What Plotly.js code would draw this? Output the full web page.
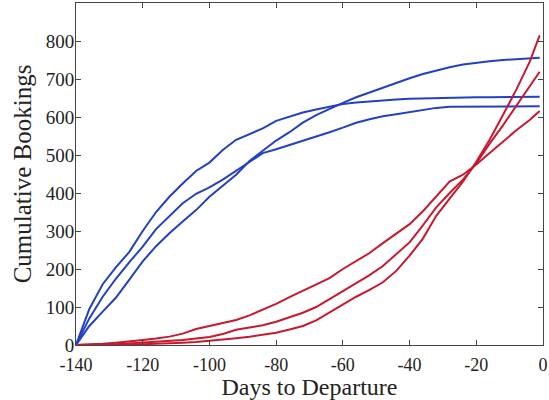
<!DOCTYPE html>
<html>
<head>
<meta charset="utf-8">
<script src="https://cdn.plot.ly/plotly-3.0.1.min.js"></script>
<style>html,body{margin:0;padding:0;background:#fff;}#chart{width:549px;height:400px;}</style>
</head>
<body>
<div id="chart"></div>
<script>
const days = [-140,-136,-132,-128,-124,-120,-116,-112,-108,-104,-100,-96,-92,-88,-84,-80,-76,-72,-68,-64,-60,-56,-52,-48,-44,-40,-36,-32,-28,-24,-20,-16,-12,-8,-4,-1];

const blueA = [0,95,160,205,245,300,350,390,425,458,480,513,540,555,570,590,602,612,620,628,634,638,641,644,646,648,649,650,651,651,652,652,652,653,653,653];
const blueB = [0,70,127,175,218,259,305,340,373,398,415,435,458,482,505,515,526,536,547,560,572,585,594,602,607,613,619,624,627,627,628,628,628,628,628,628];
const blueC = [0,50,88,125,172,220,260,294,325,355,390,418,448,484,510,538,560,585,605,622,637,652,665,676,690,702,713,723,731,738,743,747,750,752,755,756];

const red1 = [0,1,3,6,9,13,17,22,30,42,50,58,66,78,92,108,126,142,158,176,200,222,242,268,292,318,352,390,430,448,475,505,535,565,592,616];
const red2 = [0,0,1,2,4,6,8,10,13,17,21,29,40,46,52,61,72,85,100,120,142,163,184,208,240,270,315,362,400,435,478,530,578,630,680,719];
const red3 = [0,0,0,1,1,2,3,4,6,8,11,14,18,22,27,32,41,50,65,86,108,127,145,165,195,235,280,340,385,430,482,540,605,672,745,815];

const xTickVals = [-140,-120,-100,-80,-60,-40,-20,0];
const xTickText = ["-140","-120","-100","-80","-60","-40","-20","0"];
const yTickVals = [0,100,200,300,400,500,600,700,800];

const blue = "#2340c4";
const red = "#c8192e";

const series = [
  {y: blueA, c: blue},
  {y: blueB, c: blue},
  {y: blueC, c: blue},
  {y: red1, c: red},
  {y: red2, c: red},
  {y: red3, c: red}
];

const traces = series.map(s => ({
  x: days, y: s.y, type: "scatter", mode: "lines",
  line: {color: s.c, width: 2}, hoverinfo: "skip", showlegend: false
}));

const font = {family: "Liberation Serif, DejaVu Serif, serif", color: "#222"};

const layout = {
  width: 549, height: 400,
  margin: {l: 76, r: 6, t: 3, b: 55},
  paper_bgcolor: "#fff", plot_bgcolor: "#fff",
  showlegend: false,
  font: Object.assign({size: 19}, font),
  xaxis: {
    range: [-140, 0], tickvals: xTickVals, ticktext: xTickText,
    ticks: "inside", ticklen: 5, tickcolor: "#444", tickwidth: 1,
    showline: true, linecolor: "#444", linewidth: 1, mirror: "ticks",
    showgrid: false, zeroline: false,
    ticklabelstandoff: 3,
    tickfont: Object.assign({size: 18}, font),
    title: {text: "Days to Departure", font: Object.assign({size: 24}, font), standoff: 4}
  },
  yaxis: {
    range: [0, 900], tickvals: yTickVals,
    ticks: "inside", ticklen: 5, tickcolor: "#444", tickwidth: 1,
    showline: true, linecolor: "#444", linewidth: 1, mirror: "ticks",
    showgrid: false, zeroline: false,
    ticklabelstandoff: -3,
    tickfont: Object.assign({size: 19}, font),
    title: {text: "Cumulative Bookings", font: Object.assign({size: 25}, font), standoff: 6}
  }
};

Plotly.newPlot("chart", traces, layout, {staticPlot: true, displayModeBar: false});
</script>
</body>
</html>
